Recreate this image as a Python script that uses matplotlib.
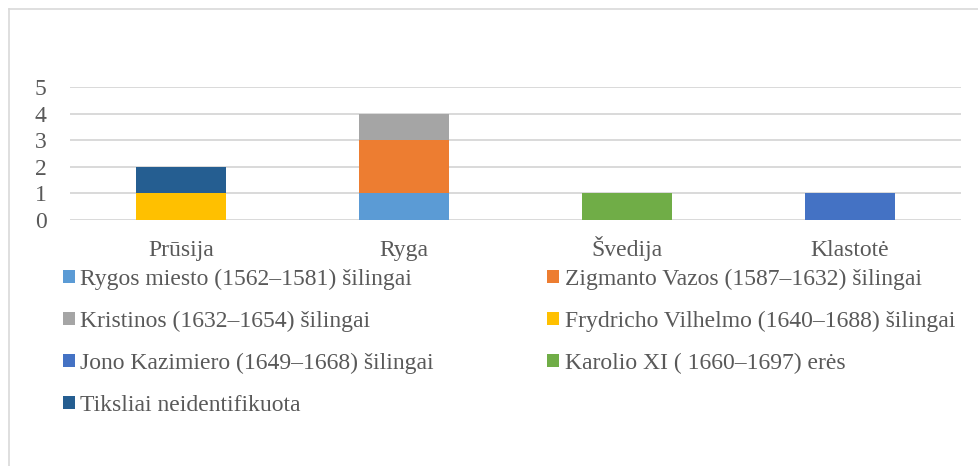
import matplotlib
matplotlib.use("Agg")
import matplotlib.pyplot as plt
from matplotlib.patches import Patch
from matplotlib.lines import Line2D
import numpy as np

plt.rcParams['font.family'] = ['Liberation Serif', 'DejaVu Serif']

categories = ["Prūsija", "Ryga", "Švedija", "Klastotė"]
series_names = [
    "Rygos miesto (1562–1581) šilingai",
    "Zigmanto Vazos (1587–1632) šilingai",
    "Kristinos (1632–1654) šilingai",
    "Frydricho Vilhelmo (1640–1688) šilingai",
    "Jono Kazimiero (1649–1668) šilingai",
    "Karolio XI ( 1660–1697) erės",
    "Tiksliai neidentifikuota",
]
rygos_miesto = [0, 1, 0, 0]
zigmanto_vazos = [0, 2, 0, 0]
kristinos = [0, 1, 0, 0]
frydricho = [1, 0, 0, 0]
jono_kazimiero = [0, 0, 0, 1]
karolio = [0, 0, 1, 0]
neidentifikuota = [1, 0, 0, 0]
series_values = [rygos_miesto, zigmanto_vazos, kristinos, frydricho,
                 jono_kazimiero, karolio, neidentifikuota]
colors = ["#5B9BD5", "#ED7D31", "#A5A5A5", "#FFC000", "#4472C4", "#70AD47", "#255E91"]
y_ticks = [0, 1, 2, 3, 4, 5]

W, H = 979, 466
fig = plt.figure(figsize=(W / 100, H / 100), dpi=100)
ax = fig.add_axes([70 / W, 1 - 220 / H, (961 - 70) / W, (220 - 87) / H])

x = np.arange(len(categories))
bottom = np.zeros(len(categories))
handles = []
for name, vals, c in zip(series_names, series_values, colors):
    vals = np.array(vals, dtype=float)
    ax.bar(x, vals, 0.404, bottom=bottom, color=c, zorder=3)
    bottom += vals
    handles.append(Patch(facecolor=c, edgecolor='none', label=name))

ax.set_xlim(-0.5, len(categories) - 0.5)
ax.set_ylim(0, 5)
ax.set_yticks(y_ticks)
ax.set_xticks(x)
ax.set_xticklabels(categories, va='baseline')
ax.grid(axis='y', color='#D9D9D9', linewidth=1.4, zorder=0)
for s in ax.spines.values():
    s.set_visible(False)
ax.tick_params(axis='both', length=0, labelsize=17, labelcolor='#595959')
ax.tick_params(axis='y', pad=17)
ax.tick_params(axis='x', pad=26)

# legend fills column-wise; reorder so it reads row-wise in two columns
ncol = 2
nrow = int(np.ceil(len(handles) / ncol))
order = [r * ncol + c for c in range(ncol) for r in range(nrow) if r * ncol + c < len(handles)]
fig.legend(handles=[handles[i] for i in order], ncol=ncol, loc='upper left',
           bbox_to_anchor=(63 / W, 1 - 269 / H), frameon=False,
           fontsize=17, labelcolor='#595959',
           handlelength=0.49, handleheight=0.49, handletextpad=0.25,
           columnspacing=4.8, labelspacing=0.88, borderpad=0, borderaxespad=0)

# outer frame (top and left edges visible)
fig.add_artist(Line2D([9 / W, 9 / W], [0, 1 - 9 / H], transform=fig.transFigure,
                      color='#D9D9D9', linewidth=1.2))
fig.add_artist(Line2D([9 / W, 1], [1 - 9 / H, 1 - 9 / H], transform=fig.transFigure,
                      color='#D9D9D9', linewidth=1.2))

fig.savefig("out.png", dpi=100)
